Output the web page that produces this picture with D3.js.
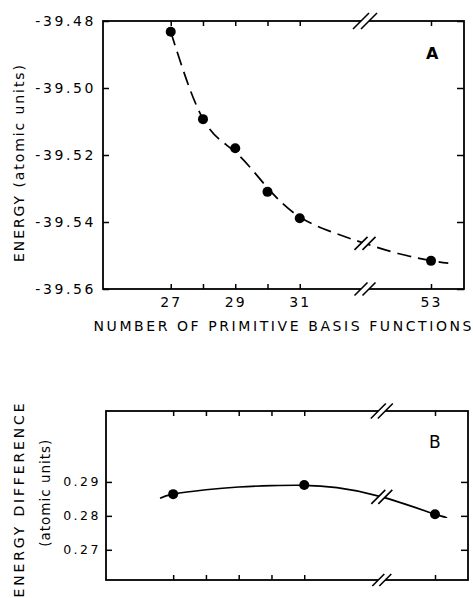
<!DOCTYPE html>
<html>
<head>
<meta charset="utf-8">
<script src="https://cdn.jsdelivr.net/npm/d3@7"></script>
<style>
  body { margin: 0; background: #fff; }
  svg { display: block; font-family: 'DejaVu Sans', sans-serif; }
</style>
</head>
<body>
<svg width="473" height="598"></svg>
<script>
// panel A: total energy vs basis size
const energyN = [27, 28, 29, 30, 31, 53]
const energyVal = [-39.4832, -39.5093, -39.518, -39.531, -39.5389, -39.5516]
// dashed fitted curve
const fitAN = [27, 28, 29, 30, 31, 32, 36, 39, 46, 53, 53.55]
const fitAVal = [-39.4832, -39.5092, -39.5191, -39.5298, -39.5385, -39.543, -39.545, -39.5464, -39.5494, -39.5515, -39.5523]

// panel B: energy difference
const diffN = [27, 31, 53]
const diffVal = [0.2864, 0.2891, 0.2805]
const fitBN = [26.6, 27, 28, 29, 30, 31, 32, 41.6, 53, 53.35]
const fitBVal = [0.2852, 0.2864, 0.2877, 0.2885, 0.2889, 0.2890, 0.2883, 0.2856, 0.2805, 0.2797]

const xTicks = [27, 28, 29, 30, 31, 53]
const xTickLabels = { 27: '27', 29: '29', 31: '31', 53: '53' }
const yTicksA = [-39.48, -39.50, -39.52, -39.54, -39.56]
const yTicksB = [0.29, 0.28, 0.27]

const svg = d3.select('svg')

// broken axis: linear up to 32, squeezed gap, then 53
const xA = d3.scaleLinear().domain([24.9, 32, 53, 54.05]).range([103, 332, 431, 464])
const yA = d3.scaleLinear().domain([-39.56, -39.48]).range([289, 21])
const xB = d3.scaleLinear().domain([24.95, 32, 53, 54.0]).range([106, 337, 435, 468])
const yB = d3.scaleLinear().domain([0.2611, 0.3109]).range([580, 411])

const breakA = 39, breakB = 41.6

const styleAxis = (g) => {
  g.select('.domain').remove()
  g.selectAll('.tick line').attr('stroke', '#000').attr('stroke-width', 1.5)
  g.selectAll('text').attr('fill', '#000').attr('font-family', 'DejaVu Sans, sans-serif')
}

// "//" break mark, white behind it so the line under it is cut
const brk = (g, cx, cy, h, off) => {
  g.append('polygon')
    .attr('points', [[cx - off - h, cy + h], [cx - off + h, cy - h], [cx + off + h, cy - h], [cx + off - h, cy + h]].join(' '))
    .attr('fill', '#fff')
  ;[-off, off].forEach(o => {
    g.append('line')
      .attr('x1', cx + o - h).attr('y1', cy + h)
      .attr('x2', cx + o + h).attr('y2', cy - h)
      .attr('stroke', '#000').attr('stroke-width', 1.6)
  })
}

const panel = (x, y, yTicks, opts) => {
  const [x0, x1] = [x.range()[0], x.range()[3]]
  const [y0, y1] = y.range()
  const g = svg.append('g')

  // ticks on all four sides, pointing inward
  g.append('g').attr('transform', `translate(0,${y0})`)
    .call(d3.axisBottom(x).tickValues(xTicks).tickSize(-5).tickPadding(opts.xPad)
      .tickFormat(d => opts.xLabels ? (xTickLabels[d] || '') : ''))
    .call(styleAxis)
    .selectAll('text').attr('font-size', '14px').attr('letter-spacing', '2px')
  g.append('g').attr('transform', `translate(0,${y1})`)
    .call(d3.axisTop(x).tickValues(xTicks).tickSize(-5).tickFormat(''))
    .call(styleAxis)
  g.append('g').attr('transform', `translate(${x0},0)`)
    .call(d3.axisLeft(y).tickValues(yTicks).tickSize(-6).tickPadding(opts.yPad).tickFormat(opts.yFmt))
    .call(styleAxis)
    .selectAll('text').attr('font-size', opts.yFont).attr('letter-spacing', opts.ySpace)
  g.append('g').attr('transform', `translate(${x1},0)`)
    .call(d3.axisRight(y).tickValues(yTicks).tickSize(-7).tickFormat(''))
    .call(styleAxis)

  g.append('rect')
    .attr('x', x0).attr('y', y1)
    .attr('width', x1 - x0).attr('height', y0 - y1)
    .attr('fill', 'none').attr('stroke', '#000').attr('stroke-width', 1.8)
  return g
}

//#region PANEL_A
const gA = panel(xA, yA, yTicksA, {
  xLabels: true, xPad: 8, yPad: 7, yFont: '14px', ySpace: '2.6px',
  yFmt: d => d3.format('.2f')(d).replace('−', '-')
})

const lineA = d3.line().x((d, i) => xA(fitAN[i])).y(d => yA(d)).curve(d3.curveNatural)
gA.append('path')
  .attr('d', lineA(fitAVal))
  .attr('fill', 'none').attr('stroke', '#000').attr('stroke-width', 1.7)
  .attr('stroke-dasharray', '14,7')

brk(gA, xA(breakA), yA(-39.48), 8, 4)
brk(gA, xA(breakA), yA(-39.56), 6.5, 4)
const iA = fitAN.indexOf(breakA)
brk(gA, xA(breakA), yA(fitAVal[iA]), 6.5, 4)

gA.selectAll('.dot')
  .data(energyVal).join('circle')
  .attr('cx', (d, i) => xA(energyN[i])).attr('cy', d => yA(d))
  .attr('r', 5).attr('fill', '#000')

gA.append('text')
  .attr('x', 426).attr('y', 58.5)
  .attr('font-size', '16px').attr('font-weight', 'bold')
  .text('A')

svg.append('text')
  .attr('x', 93.5).attr('y', 331)
  .attr('font-size', '14px')
  .attr('textLength', 378).attr('lengthAdjust', 'spacing')
  .text('NUMBER OF PRIMITIVE BASIS FUNCTIONS')

svg.append('text')
  .attr('transform', 'translate(23.5,262) rotate(-90)')
  .attr('font-size', '14px')
  .attr('textLength', 197).attr('lengthAdjust', 'spacing')
  .text('ENERGY (atomic units)')
//#endregion

//#region PANEL_B
const gB = panel(xB, yB, yTicksB, {
  xLabels: false, xPad: 7, yPad: 5, yFont: '12.5px', ySpace: '2.5px',
  yFmt: d3.format('.2f')
})

const lineB = d3.line().x((d, i) => xB(fitBN[i])).y(d => yB(d)).curve(d3.curveNatural)
gB.append('path')
  .attr('d', lineB(fitBVal))
  .attr('fill', 'none').attr('stroke', '#000').attr('stroke-width', 1.7)

brk(gB, xB(breakB), yB.range()[1], 7.5, 3.5)
brk(gB, xB(breakB), yB.range()[0], 6, 3.5)
const iB = fitBN.indexOf(breakB)
brk(gB, xB(breakB), yB(fitBVal[iB]), 7, 3.5)

gB.selectAll('.dot')
  .data(diffVal).join('circle')
  .attr('cx', (d, i) => xB(diffN[i])).attr('cy', d => yB(d))
  .attr('r', 5).attr('fill', '#000')

gB.append('text')
  .attr('x', 429).attr('y', 448)
  .attr('font-size', '17px')
  .text('B')

svg.append('text')
  .attr('transform', 'translate(24,597.5) rotate(-90)')
  .attr('font-size', '14px')
  .attr('textLength', 194).attr('lengthAdjust', 'spacing')
  .text('ENERGY DIFFERENCE')

svg.append('text')
  .attr('transform', 'translate(49.5,546.7) rotate(-90)')
  .attr('font-size', '13.5px')
  .attr('textLength', 107).attr('lengthAdjust', 'spacing')
  .text('(atomic units)')
//#endregion
</script>
</body>
</html>
